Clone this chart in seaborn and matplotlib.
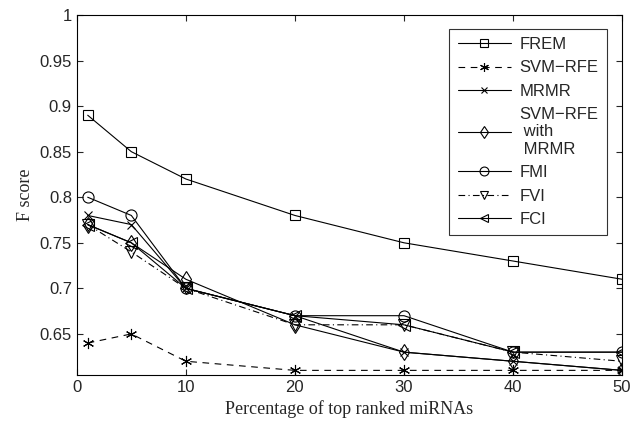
import matplotlib
matplotlib.use("Agg")
import matplotlib.pyplot as plt
import seaborn as sns
import pandas as pd

# Data
pct = [1, 5, 10, 20, 30, 40, 50]
frem = [0.89, 0.85, 0.82, 0.78, 0.75, 0.73, 0.71]
svm_rfe = [0.64, 0.65, 0.62, 0.61, 0.61, 0.61, 0.61]
mrmr = [0.78, 0.77, 0.70, 0.67, 0.63, 0.62, 0.61]
svm_mrmr = [0.77, 0.75, 0.71, 0.66, 0.63, 0.62, 0.61]
fmi = [0.80, 0.78, 0.70, 0.67, 0.67, 0.63, 0.63]
fvi = [0.77, 0.74, 0.70, 0.66, 0.66, 0.63, 0.62]
fci = [0.77, 0.75, 0.70, 0.67, 0.66, 0.63, 0.63]

x_ticks = [0, 10, 20, 30, 40, 50]
y_ticks = [0.65, 0.7, 0.75, 0.8, 0.85, 0.9, 0.95, 1.0]
y_tick_labels = ["0.65", "0.7", "0.75", "0.8", "0.85", "0.9", "0.95", "1"]

# label, values, marker, linestyle, markersize
series = [
    ("FREM", frem, "s", "-", 6.5),
    ("SVM\u2212RFE", svm_rfe, (6, 2, 0), (0, (6, 5)), 8),
    ("MRMR", mrmr, "x", "-", 6),
    ("SVM\u2212RFE\n with\n MRMR", svm_mrmr, "d", "-", 8),
    ("FMI", fmi, "o", "-", 8),
    ("FVI", fvi, "v", (0, (6, 3, 1, 3)), 8),
    ("FCI", fci, "<", "-", 8),
]

sns.set_style("ticks")
plt.rcParams['font.family'] = ['Liberation Sans', 'DejaVu Sans']

fig = plt.figure(figsize=(6.4, 4.28), dpi=100)
ax = fig.add_axes([0.12, 0.124, 0.852, 0.841])

for name, vals, mk, ls, ms in series:
    df = pd.DataFrame({"pct": pct, "score": vals})
    sns.lineplot(data=df, x="pct", y="score", ax=ax, color="black", linewidth=0.8,
                 linestyle=ls, marker=mk, markersize=ms, markerfacecolor="none",
                 markeredgecolor="black", markeredgewidth=0.8, label=name)

ax.set_xlim(0, 50)
ax.set_ylim(0.605, 1.0)
ax.set_xticks(x_ticks)
ax.set_yticks(y_ticks)
ax.set_yticklabels(y_tick_labels)
ax.tick_params(direction="in", top=True, right=True, labelsize=12, length=4, width=0.8)
for sp in ax.spines.values():
    sp.set_linewidth(0.8)
    sp.set_color("black")

ax.set_xlabel("Percentage of top ranked miRNAs", family=["Liberation Serif"], fontsize=13)
ax.set_ylabel("F score", family=["Liberation Serif"], fontsize=13)

leg = ax.legend(loc="upper right", bbox_to_anchor=(0.987, 0.985), fontsize=12,
                handlelength=3.2, frameon=True, fancybox=False, edgecolor="black",
                borderpad=0.5, labelspacing=0.5, handletextpad=0.5, markerscale=0.8)
leg.get_frame().set_linewidth(0.8)

fig.savefig("out.png", dpi=100)
